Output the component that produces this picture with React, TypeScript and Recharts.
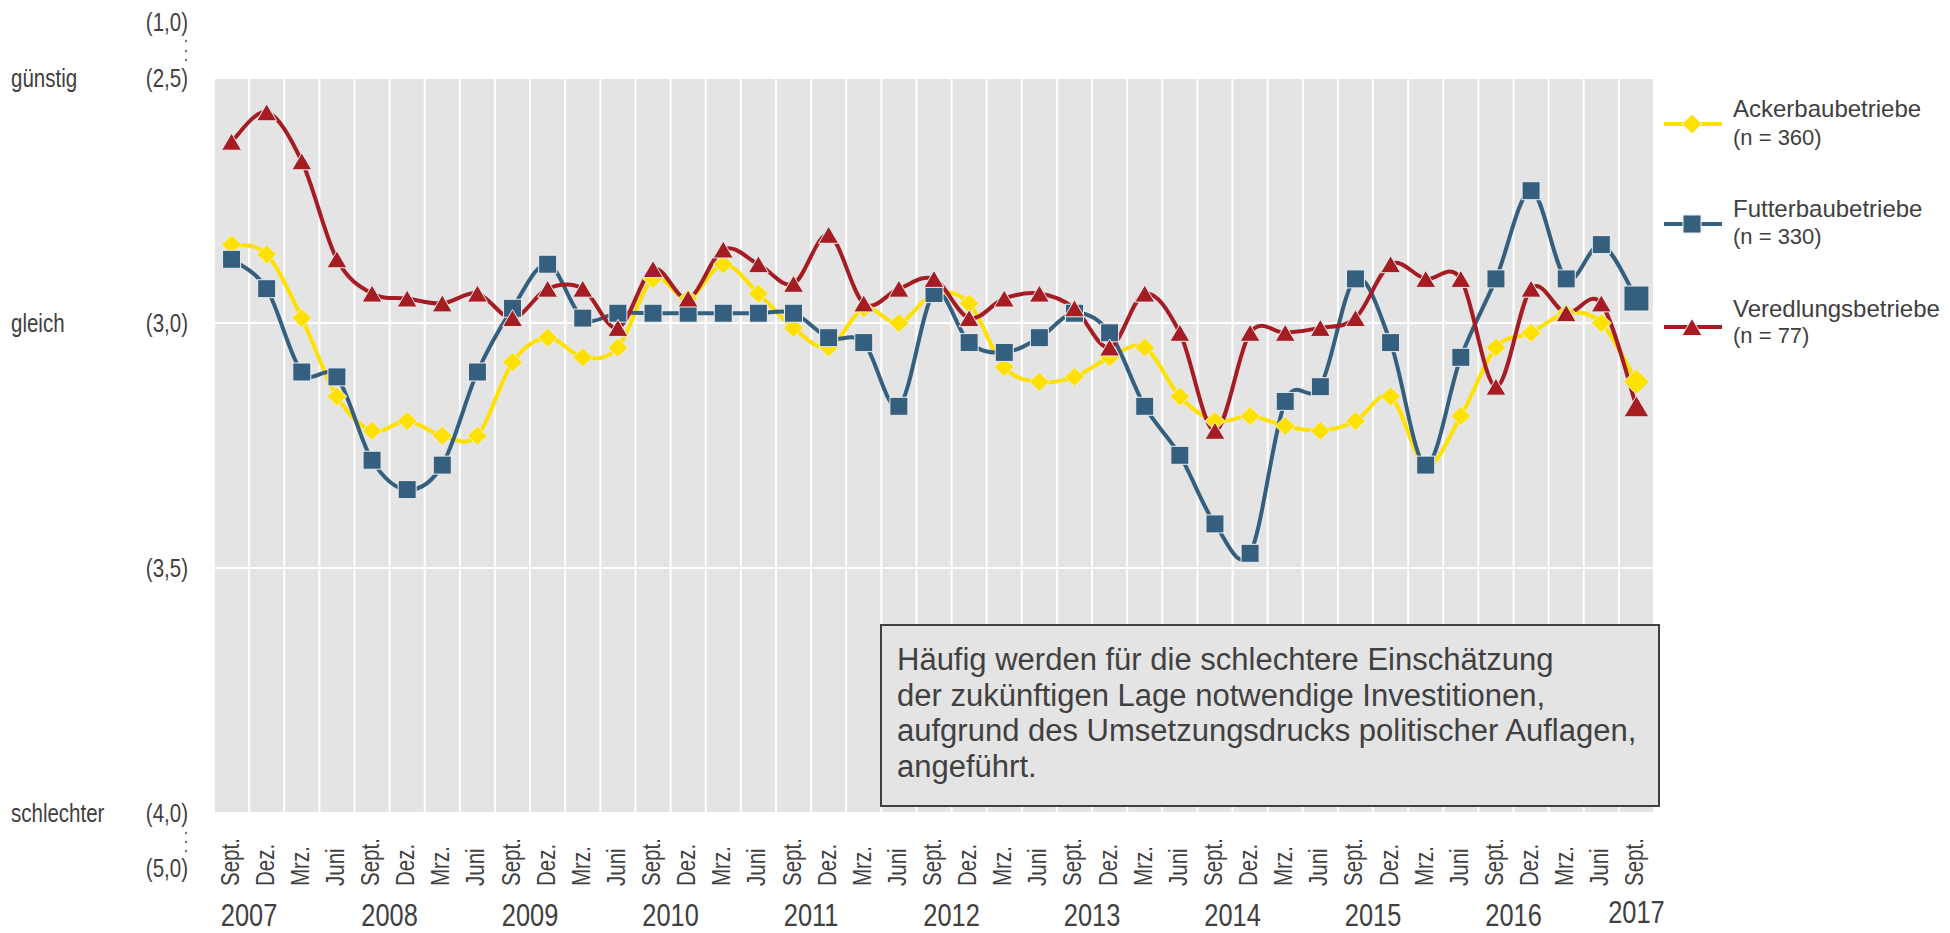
import React from "react";
import { LineChart, Line, XAxis, YAxis, CartesianGrid, Legend } from "recharts";

// ---------- DATA ----------
const categories = [
  "Sept. 2007", "Dez. 2007", "Mrz. 2008", "Juni 2008",
  "Sept. 2008", "Dez. 2008", "Mrz. 2009", "Juni 2009",
  "Sept. 2009", "Dez. 2009", "Mrz. 2010", "Juni 2010",
  "Sept. 2010", "Dez. 2010", "Mrz. 2011", "Juni 2011",
  "Sept. 2011", "Dez. 2011", "Mrz. 2012", "Juni 2012",
  "Sept. 2012", "Dez. 2012", "Mrz. 2013", "Juni 2013",
  "Sept. 2013", "Dez. 2013", "Mrz. 2014", "Juni 2014",
  "Sept. 2014", "Dez. 2014", "Mrz. 2015", "Juni 2015",
  "Sept. 2015", "Dez. 2015", "Mrz. 2016", "Juni 2016",
  "Sept. 2016", "Dez. 2016", "Mrz. 2017", "Juni 2017",
  "Sept. 2017",
];

const ackerbau = [
  2.84, 2.86, 2.99, 3.15, 3.22, 3.2, 3.23, 3.23, 3.08, 3.03, 3.07, 3.05,
  2.91, 2.95, 2.88, 2.94, 3.01, 3.05, 2.97, 3.0, 2.94, 2.96, 3.09, 3.12,
  3.11, 3.07, 3.05, 3.15, 3.2, 3.19, 3.21, 3.22, 3.2, 3.15, 3.29, 3.19,
  3.05, 3.02, 2.98, 3.0, 3.12,
];

const futterbau = [
  2.87, 2.93, 3.1, 3.11, 3.28, 3.34, 3.29, 3.1, 2.97, 2.88, 2.99, 2.98,
  2.98, 2.98, 2.98, 2.98, 2.98, 3.03, 3.04, 3.17, 2.94, 3.04, 3.06, 3.03,
  2.98, 3.02, 3.17, 3.27, 3.41, 3.47, 3.16, 3.13, 2.91, 3.04, 3.29, 3.07,
  2.91, 2.73, 2.91, 2.84, 2.95,
];

const veredlung = [
  2.63, 2.57, 2.67, 2.87, 2.94, 2.95, 2.96, 2.94, 2.99, 2.93, 2.93, 3.01,
  2.89, 2.95, 2.85, 2.88, 2.92, 2.82, 2.96, 2.93, 2.91, 2.99, 2.95, 2.94,
  2.97, 3.05, 2.94, 3.02, 3.22, 3.02, 3.02, 3.01, 2.99, 2.88, 2.91, 2.91,
  3.13, 2.93, 2.98, 2.96, 3.17,
];

const seriesNames = ["Ackerbaubetriebe", "Futterbaubetriebe", "Veredlungsbetriebe"];
const seriesCounts = ["(n = 360)", "(n = 330)", "(n = 77)"];

const yTicks = [2.5, 3.0, 3.5, 4.0];
const yTickLabels = ["(2,5)", "(3,0)", "(3,5)", "(4,0)"];
const yTickWords = ["günstig", "gleich", "", "schlechter"];
const yOuterLabels = ["(1,0)", "(5,0)"];

const noteLines = [
  "Häufig werden für die schlechtere Einschätzung",
  "der zukünftigen Lage notwendige Investitionen,",
  "aufgrund des Umsetzungsdrucks politischer Auflagen,",
  "angeführt.",
];

const data = categories.map((c, i) => ({
  cat: c,
  acker: ackerbau[i],
  futter: futterbau[i],
  vered: veredlung[i],
}));

// ---------- STYLE / LAYOUT ----------
const W = 1950;
const H = 933;
const PLOT_L = 214;
const PLOT_R = 1654;
const PLOT_T = 78;
const PLOT_B = 813;
const N = categories.length;
const BAND = (PLOT_R - PLOT_L) / N;
const FONT = "'Liberation Sans', Arial, Helvetica, sans-serif";
const NARROW = 0.82; // emulate Arial Narrow
const TEXT = "#404040";
const PLOT_BG = "#E4E4E4";
const YELLOW = "#FFE100";
const BLUE = "#355F7F";
const RED = "#A51D23";
const MARK_STROKE = "#EDEDED";
const LINE_W = 4;

const series = [
  { key: "acker", color: YELLOW, shape: "diamond" },
  { key: "futter", color: BLUE, shape: "square" },
  { key: "vered", color: RED, shape: "triangle" },
];

// Excel-like smoothing (Catmull-Rom as cubic Bezier)
const smoothCurve = (context: any) => {
  let xs: number[] = [];
  let ys: number[] = [];
  return {
    areaStart() {},
    areaEnd() {},
    lineStart() {
      xs = [];
      ys = [];
    },
    point(x: number, y: number) {
      xs.push(+x);
      ys.push(+y);
    },
    lineEnd() {
      const n = xs.length;
      if (!n) return;
      context.moveTo(xs[0], ys[0]);
      if (n === 2) {
        context.lineTo(xs[1], ys[1]);
        return;
      }
      for (let i = 0; i < n - 1; i++) {
        const i0 = Math.max(i - 1, 0);
        const i3 = Math.min(i + 2, n - 1);
        const c1x = xs[i] + (xs[i + 1] - xs[i0]) / 6;
        const c1y = ys[i] + (ys[i + 1] - ys[i0]) / 6;
        const c2x = xs[i + 1] - (xs[i3] - xs[i]) / 6;
        const c2y = ys[i + 1] - (ys[i3] - ys[i]) / 6;
        context.bezierCurveTo(c1x, c1y, c2x, c2y, xs[i + 1], ys[i + 1]);
      }
    },
  };
};

function drawMarker(shape: string, cx: number, cy: number, color: string, big: boolean, key?: string) {
  if (cx == null || cy == null || isNaN(cx) || isNaN(cy)) return <g key={key} />;
  if (shape === "diamond") {
    const rx = big ? 13 : 10;
    const ry = big ? 12.5 : 9.5;
    return (
      <polygon
        key={key}
        points={`${cx},${cy - ry} ${cx + rx},${cy} ${cx},${cy + ry} ${cx - rx},${cy}`}
        fill={color}
        stroke={MARK_STROKE}
        strokeWidth={1}
      />
    );
  }
  if (shape === "square") {
    const s = big ? 25 : 18;
    return (
      <rect key={key} x={cx - s / 2} y={cy - s / 2} width={s} height={s} fill={color} stroke={MARK_STROKE} strokeWidth={1} />
    );
  }
  const w = big ? 25 : 20;
  const h = big ? 21 : 17;
  return (
    <polygon
      key={key}
      points={`${cx},${cy - h / 2} ${cx + w / 2},${cy + h / 2} ${cx - w / 2},${cy + h / 2}`}
      fill={color}
      stroke={MARK_STROKE}
      strokeWidth={1}
    />
  );
}

const makeDot = (shape: string, color: string) => (p: any) =>
  drawMarker(shape, p.cx, p.cy, color, p.index === N - 1, `m-${shape}-${p.index}`);

// condensed text helper
const NText = (props: any) => {
  const { x, y, anchor, size, rotate, dy, children } = props;
  const rot = rotate ? ` rotate(${rotate})` : "";
  return (
    <text
      transform={`translate(${x},${y})${rot} scale(${NARROW},1)`}
      x={0}
      y={0}
      dy={dy}
      textAnchor={anchor || "start"}
      fontFamily={FONT}
      fontSize={size}
      fill={TEXT}
    >
      {children}
    </text>
  );
};

const YTick = (props: any) => {
  const { y, payload } = props;
  const i = yTicks.indexOf(payload.value);
  const S = 25;
  return (
    <g>
      <NText x={188} y={y} dy="0.36em" anchor="end" size={S}>
        {yTickLabels[i]}
      </NText>
      {yTickWords[i] ? (
        <NText x={11} y={y} dy="0.36em" anchor="start" size={S}>
          {yTickWords[i]}
        </NText>
      ) : null}
      {i === 0 ? (
        <g>
          <NText x={188} y={y - 56} dy="0.36em" anchor="end" size={S}>
            {yOuterLabels[0]}
          </NText>
          {[-37, -27, -18].map((d) => (
            <circle key={d} cx={186} cy={y + d} r={1.2} fill="#777" />
          ))}
        </g>
      ) : null}
      {i === yTicks.length - 1 ? (
        <g>
          <NText x={188} y={y + 55} dy="0.36em" anchor="end" size={S}>
            {yOuterLabels[1]}
          </NText>
          {[20, 29, 38].map((d) => (
            <circle key={d} cx={186} cy={y + d} r={1.2} fill="#777" />
          ))}
        </g>
      ) : null}
    </g>
  );
};

const XTick = (props: any) => {
  const { x, payload } = props;
  const [q, yr] = String(payload.value).split(" ");
  const isLast = payload.value === categories[N - 1];
  return (
    <g>
      <text
        transform={`translate(${x + 7},886) rotate(-90) scale(${NARROW},1)`}
        textAnchor="start"
        fontFamily={FONT}
        fontSize={25}
        fill={TEXT}
      >
        {q}
      </text>
      {q === "Sept." ? (
        <NText x={isLast ? x : x + BAND / 2} y={isLast ? 923 : 926} anchor="middle" size={31}>
          {yr}
        </NText>
      ) : null}
    </g>
  );
};

const legendLineY = [124, 224, 327];
const legendTitleY = [117, 217, 317];
const legendCountY = [145, 244, 343];
const LEG_L = 1650;
const LEG_T = 80;

const renderLegend = () => (
  <svg width={300} height={290} style={{ display: "block" }}>
    {series.map((s, i) => {
      const ly = legendLineY[i] - LEG_T;
      return (
        <g key={s.key}>
          <line x1={14} x2={72} y1={ly} y2={ly} stroke={s.color} strokeWidth={LINE_W} />
          {drawMarker(s.shape, 42, ly, s.color, false)}
          <text x={83} y={legendTitleY[i] - LEG_T} fontFamily={FONT} fontSize={24} fill={TEXT}>
            {seriesNames[i]}
          </text>
          <text x={83} y={legendCountY[i] - LEG_T} fontFamily={FONT} fontSize={22} fill={TEXT}>
            {seriesCounts[i]}
          </text>
        </g>
      );
    })}
  </svg>
);

export default function App() {
  return (
    <div style={{ position: "absolute", left: 0, top: 0, width: W, height: H, overflow: "hidden", background: "#fff" }}>
      <LineChart
        width={W}
        height={H}
        data={data}
        margin={{ top: PLOT_T, right: W - PLOT_R, bottom: 20, left: PLOT_L - 100 }}
      >
        <CartesianGrid
          fill={PLOT_BG}
          stroke="#FFFFFF"
          strokeWidth={2}
          verticalCoordinatesGenerator={({ offset }: any) =>
            Array.from({ length: N + 1 }, (_, i) => offset.left + (i * offset.width) / N)
          }
        />
        <XAxis
          dataKey="cat"
          type="category"
          interval={0}
          height={H - PLOT_B - 20}
          padding={{ left: BAND / 2, right: BAND / 2 }}
          axisLine={false}
          tickLine={false}
          tick={<XTick />}
        />
        <YAxis
          type="number"
          domain={[2.5, 4.0]}
          ticks={yTicks}
          reversed
          interval={0}
          width={100}
          axisLine={false}
          tickLine={false}
          tick={<YTick />}
          allowDataOverflow
        />
        <Legend
          layout="vertical"
          align="center"
          verticalAlign="middle"
          content={renderLegend}
          wrapperStyle={{ position: "absolute", left: LEG_L, top: LEG_T, width: 300, height: 290 }}
        />
        {series.map((s, i) => (
          <Line
            key={s.key}
            dataKey={s.key}
            name={seriesNames[i]}
            type={smoothCurve as any}
            stroke={s.color}
            strokeWidth={LINE_W}
            dot={makeDot(s.shape, s.color)}
            activeDot={false}
            isAnimationActive={false}
          />
        ))}
      </LineChart>
      <svg width={W} height={H} style={{ position: "absolute", left: 0, top: 0, pointerEvents: "none" }}>
        <rect x={881} y={625} width={778} height={181} fill={PLOT_BG} stroke={TEXT} strokeWidth={2} />
        {noteLines.map((t, i) => (
          <text key={i} x={897} y={670 + i * 35.7} fontFamily={FONT} fontSize={31} fill={TEXT}>
            {t}
          </text>
        ))}
      </svg>
    </div>
  );
}
